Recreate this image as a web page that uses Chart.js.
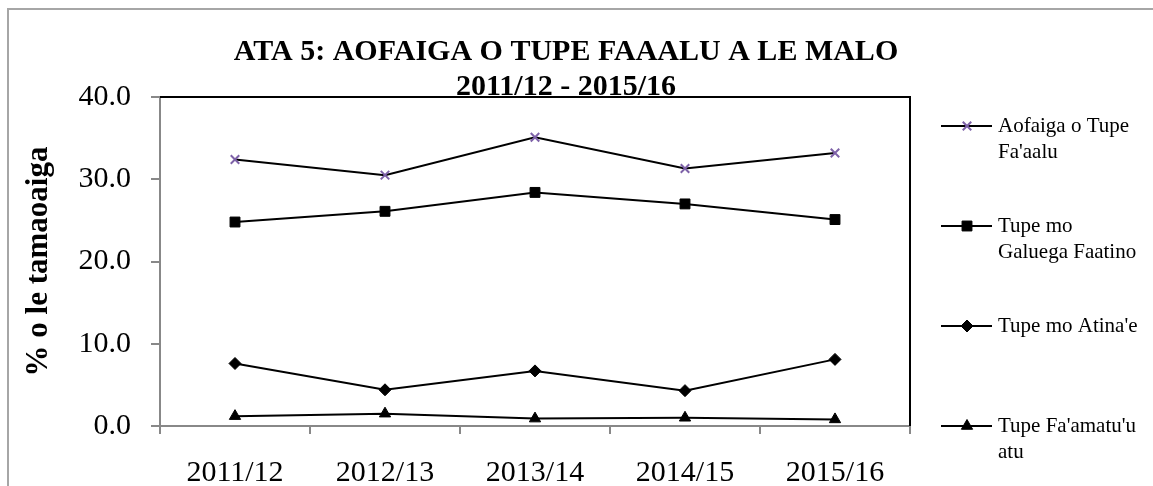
<!DOCTYPE html>
<html><head><meta charset="utf-8">
<script src="https://cdn.jsdelivr.net/npm/chart.js@4.4.1/dist/chart.umd.min.js"></script>
<style>html,body{margin:0;padding:0;background:#fff;overflow:hidden}#wrap{position:relative;width:1153px;height:486px}canvas{display:block}</style>
</head><body><div id="wrap"><canvas id="c" width="1153" height="486"></canvas></div>
<script>
const categories = ['2011/12', '2012/13', '2013/14', '2014/15', '2015/16'];
const aofaigaTupe = [32.4, 30.5, 35.1, 31.3, 33.2];
const galuegaFaatino = [24.8, 26.1, 28.4, 27.0, 25.1];
const atinae = [7.6, 4.4, 6.7, 4.3, 8.1];
const famatuuatu = [1.2, 1.5, 0.9, 1.0, 0.8];
const seriesNames = [["Aofaiga o Tupe", "Fa'aalu"], ["Tupe mo", "Galuega Faatino"], ["Tupe mo Atina'e"], ["Tupe Fa'amatu'u", "atu"]];
const yTickValues = [0, 10, 20, 30, 40];
const titleLines = ['ATA 5: AOFAIGA O TUPE FAAALU A LE MALO', '2011/12 - 2015/16'];
const yAxisTitle = '% o le tamaoaiga';

const SERIF = "'Liberation Serif', 'Times New Roman', serif";
const PURPLE = '#7E62A8';

function ds(label, data, style, radius, color) {
  return {
    label: label, data: data,
    borderColor: '#000', borderWidth: 2, tension: 0,
    pointStyle: style, pointRadius: radius, pointHoverRadius: radius,
    pointBackgroundColor: color, pointBorderColor: color,
    pointBorderWidth: style === 'crossRot' ? 2 : 1
  };
}

const frameAndTitle = {
  id: 'frameAndTitle',
  beforeDraw(chart) {
    const ctx = chart.ctx;
    ctx.save();
    ctx.fillStyle = '#fff';
    ctx.fillRect(0, 0, chart.width, chart.height);
    ctx.strokeStyle = '#a6a6a6';
    ctx.lineWidth = 2;
    ctx.beginPath();
    ctx.moveTo(8, chart.height);
    ctx.lineTo(8, 9);
    ctx.lineTo(chart.width, 9);
    ctx.stroke();
    ctx.restore();
  },
  afterDraw(chart) {
    const ctx = chart.ctx;
    const a = chart.chartArea;
    ctx.save();
    ctx.strokeStyle = '#000';
    ctx.lineWidth = 2;
    ctx.beginPath();
    ctx.moveTo(a.left, a.top);
    ctx.lineTo(a.right, a.top);
    ctx.lineTo(a.right, a.bottom);
    ctx.stroke();
    ctx.fillStyle = '#000';
    ctx.font = 'bold 30px ' + SERIF;
    ctx.textAlign = 'center';
    ctx.textBaseline = 'alphabetic';
    ctx.fillText(titleLines[0], 566, 60);
    ctx.fillText(titleLines[1], 566, 95);
    const dsets = chart.data.datasets;
    ctx.font = '21px ' + SERIF;
    ctx.textAlign = 'left';
    ctx.textBaseline = 'middle';
    dsets.forEach((d, i) => {
      const y = a.top + 29 + i * 100;
      ctx.strokeStyle = '#000';
      ctx.lineWidth = 2;
      ctx.beginPath();
      ctx.moveTo(941, y);
      ctx.lineTo(992, y);
      ctx.stroke();
      ctx.fillStyle = d.pointBackgroundColor;
      ctx.strokeStyle = d.pointBorderColor;
      ctx.lineWidth = d.pointBorderWidth;
      Chart.helpers.drawPoint(ctx, {pointStyle: d.pointStyle, radius: d.pointRadius, rotation: 0, borderWidth: d.pointBorderWidth}, 967, y);
      ctx.fillStyle = '#000';
      const lines = Array.isArray(d.label) ? d.label : [d.label];
      lines.forEach((t, k) => ctx.fillText(t, 998, y + k * 26));
    });
    ctx.restore();
  }
};

new Chart(document.getElementById('c'), {
  type: 'line',
  data: {
    labels: categories,
    datasets: [
      ds(seriesNames[0], aofaigaTupe, 'crossRot', 6, PURPLE),
      ds(seriesNames[1], galuegaFaatino, 'rect', 7, '#000'),
      ds(seriesNames[2], atinae, 'rectRot', 6, '#000'),
      ds(seriesNames[3], famatuuatu, 'triangle', 6.5, '#000')
    ]
  },
  options: {
    responsive: false,
    devicePixelRatio: 1,
    animation: false,
    layout: {padding: {left: 0, top: 97, right: 243, bottom: 0}},
    plugins: {legend: {display: false}, title: {display: false}, tooltip: {enabled: false}},
    scales: {
      x: {
        type: 'category',
        offset: true,
        grid: {display: true, offset: true, drawOnChartArea: false, drawTicks: true, tickLength: 8, color: '#888', lineWidth: 2},
        border: {display: true, color: '#888', width: 2},
        ticks: {color: '#000', font: {family: SERIF, size: 30}, padding: 21, maxRotation: 0, autoSkip: false},
        afterFit: s => { s.height = 60; }
      },
      y: {
        min: 0, max: 40,
        afterBuildTicks: s => { s.ticks = yTickValues.map(v => ({value: v})); },
        grid: {display: true, drawOnChartArea: false, drawTicks: true, tickLength: 9, color: '#888', lineWidth: 2},
        border: {display: true, color: '#888', width: 2},
        ticks: {color: '#000', font: {family: SERIF, size: 30}, padding: 20, callback: v => Number(v).toFixed(1)},
        title: {display: true, text: yAxisTitle, color: '#000', font: {family: SERIF, size: 31, weight: 'bold'}, padding: {top: 20, bottom: 0}},
        afterFit: s => { s.width = 160; }
      }
    }
  },
  plugins: [frameAndTitle]
});
</script>
</body></html>
